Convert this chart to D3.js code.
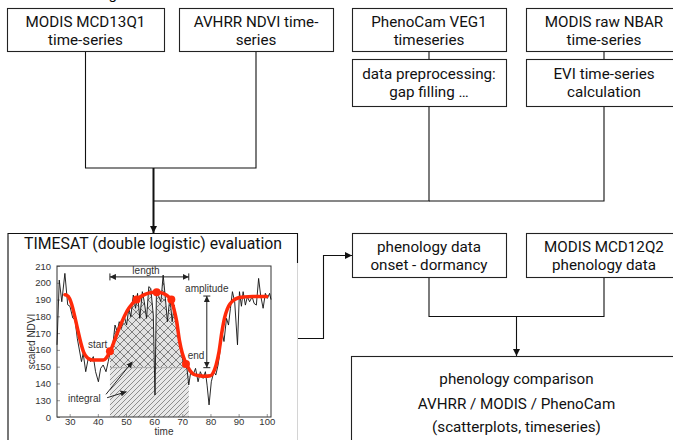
<!DOCTYPE html>
<html>
<head>
<meta charset="utf-8">
<script src="https://cdn.jsdelivr.net/npm/d3@7"></script>
<style>
  body { margin: 0; background: #fff; }
  svg { display: block; }
</style>
</head>
<body>
<svg width="673" height="440"></svg>
<script>
// ---------------- flowchart text ----------------
var sourceLabels = [
    ["MODIS MCD13Q1", "time-series"],
    ["AVHRR NDVI time-", "series"],
    ["PhenoCam VEG1", "timeseries"],
    ["MODIS raw NBAR", "time-series"]
];
var prepLabels = [
    ["data preprocessing:", "gap filling \u2026"],
    ["EVI time-series", "calculation"]
];
var resultLabels = [
    ["phenology data", "onset - dormancy"],
    ["MODIS MCD12Q2", "phenology data"]
];
var evalTitle = "TIMESAT (double logistic) evaluation";
var compareLines = ["phenology comparison", "AVHRR / MODIS / PhenoCam", "(scatterplots, timeseries)"];

// ---------------- TIMESAT example data ----------------
var ndviTime = [25.5, 26.3, 27.2, 28.3, 29.3, 30.1, 31.1, 31.9, 32.7, 34.2, 34.8, 35.7, 36.6, 37.4, 38.4, 39.2,
    40.2, 41.0, 41.9, 42.9, 43.7, 44.3, 45.2, 46.1, 46.9, 47.6, 48.4, 49.3, 50.2, 51.0, 51.7, 52.6, 53.4, 54.1,
    54.9, 55.8, 56.5, 57.3, 58.1, 58.8, 59.7, 60.3, 60.8, 61.7, 62.4, 63.2, 64.0, 64.7, 65.6, 66.4, 67.1, 67.9,
    68.8, 69.7, 70.5, 71.5, 72.3, 73.0, 73.8, 74.7, 75.6, 76.4, 77.4, 78.2, 78.8, 79.5, 80.3, 81.2, 81.9, 82.7,
    83.3, 84.1, 84.8, 85.7, 86.4, 87.1, 87.8, 88.6, 89.6, 90.3, 91.0, 91.6, 92.4, 93.1, 93.9, 94.8, 95.5, 96.3,
    97.1, 97.8, 98.7, 99.5, 100.2, 101.0, 101.5];
var ndviValue = [163, 201.6, 188.7, 205.6, 186.9, 186, 179, 178, 166.9, 153, 158, 147, 155, 153, 156, 147,
    141, 149, 151, 147, 153, 158, 160.9, 174.8, 170.9, 176.8, 172.8, 180.8, 174.8, 184.8, 179.8, 192.7, 184.8, 193.7,
    178.8, 194.7, 188.7, 178.8, 197.7, 196.7, 180.8, 133.1, 193.7, 191.7, 188.7, 204.6, 190.7, 176.8, 191.7, 176.8, 186.7, 174.8,
    164.9, 158, 151, 151, 139.1, 147, 145, 149, 141, 147, 143, 147, 139, 127.2, 141, 147, 145, 151,
    158, 170.9, 165, 178.8, 174.8, 184.8, 194.7, 188.7, 163, 194.7, 186, 194.7, 186.7, 191.7, 188.7, 191.7, 187.7, 186.7,
    202.6, 192.7, 184.8, 193.7, 190.7, 193.7, 190];

var fitTime = [28.3, 29, 30, 31, 32, 33, 34, 35, 36, 37, 38, 40, 42, 43, 44, 45, 46, 47, 48, 49, 50, 51, 52, 53, 54,
    56, 58, 60, 62, 64, 65, 66, 67, 68, 69, 70, 71, 72, 73, 74, 76, 78, 80, 81, 82, 83, 84, 85, 86, 87, 88, 89, 90,
    92, 95, 100];
var fitValue = [192.9, 192.6, 190.5, 185.5, 178.5, 171, 164, 158.5, 155.8, 154.5, 154, 153.9, 154, 155.3, 158, 161.5,
    166, 170.5, 174.5, 178.5, 182, 184.8, 187, 188.8, 190.3, 192.5, 193.8, 194.3, 194.2, 193, 191.8, 190, 184.5, 177,
    165.5, 158, 153.2, 149.8, 147, 145.5, 144.6, 144.3, 144.6, 146.5, 151, 158.5, 170, 179, 184.5, 187.5, 189.3, 190.4,
    191.1, 191.6, 191.8, 191.8];

var markerTime = [44.3, 53.8, 60.9, 66.1, 71.3];
var markerValue = [159.2, 190.1, 194.3, 190.1, 151.6];

var yTicks = [120, 130, 140, 150, 160, 170, 180, 190, 200, 210];
var yTickLabels = ["0", "130", "140", "150", "160", "170", "180", "190", "200", "210"];
var xTicks = [30, 40, 50, 60, 70, 80, 90, 100];

var seasonStart = 44.3, seasonEnd = 72.3, baseLevel = 149.4, amplitudeTop = 192.1;
var lengthLevel = 203.5, amplitudeTime = 78.7;

// ---------------- layout ----------------
var svg = d3.select('svg');
var boxFont = 'Roboto, sans-serif';
var boxSize = '15.2px';
var chartFont = '"Liberation Sans", Arial, sans-serif';
var col = [{x: 7, w: 157}, {x: 179, w: 154}, {x: 352, w: 154}, {x: 526, w: 156}];

var defs = svg.append('defs');
defs.append('marker').attr('id', 'arrow')
    .attr('viewBox', '0 0 10 10').attr('refX', 10).attr('refY', 5)
    .attr('markerUnits', 'userSpaceOnUse').attr('markerWidth', 7).attr('markerHeight', 7)
    .attr('orient', 'auto')
  .append('path').attr('d', 'M0,0L10,5L0,10z').attr('fill', '#111');
defs.append('marker').attr('id', 'tip')
    .attr('viewBox', '0 0 10 10').attr('refX', 10).attr('refY', 5)
    .attr('markerUnits', 'userSpaceOnUse').attr('markerWidth', 6).attr('markerHeight', 6)
    .attr('orient', 'auto-start-reverse')
  .append('path').attr('d', 'M0,0L10,5L0,10z').attr('fill', '#222');

var cross = defs.append('pattern').attr('id', 'cross')
    .attr('patternUnits', 'userSpaceOnUse').attr('width', 8).attr('height', 8);
cross.append('rect').attr('width', 8).attr('height', 8).attr('fill', '#e2e2e2');
cross.append('path').attr('d', 'M0,0L8,8M8,0L0,8').attr('stroke', '#555').attr('stroke-width', 0.7);

var diag = defs.append('pattern').attr('id', 'diag')
    .attr('patternUnits', 'userSpaceOnUse').attr('width', 5).attr('height', 5);
diag.append('rect').attr('width', 5).attr('height', 5).attr('fill', '#e8e8e8');
diag.append('path').attr('d', 'M0,5L5,0M-1,1L1,-1M4,6L6,4').attr('stroke', '#666').attr('stroke-width', 0.7);

function drawBox(x, y, w, h, lines, base, gap) {
    svg.append('rect')
       .attr('x', x + 0.5).attr('y', y + 0.5)
       .attr('width', w).attr('height', h)
       .attr('fill', '#fff').attr('stroke', '#222').attr('stroke-width', 1.1);
    var t = svg.append('text')
       .attr('text-anchor', 'middle')
       .style('font-family', boxFont).style('font-size', boxSize).style('fill', '#111');
    lines.forEach((s, i) => {
        t.append('tspan').attr('x', x + w / 2).attr('y', y + base + i * gap).text(s);
    });
}
function line(pts, width, marker) {
    var p = svg.append('path')
       .attr('d', d3.line()(pts))
       .attr('fill', 'none').attr('stroke', '#111').attr('stroke-width', width || 1.1);
    if (marker) p.attr('marker-end', 'url(#' + marker + ')');
    return p;
}

// heading above the first row, mostly outside the frame
svg.append('text').attr('x', 117).attr('y', -1).attr('text-anchor', 'end')
   .style('font-family', boxFont).style('font-size', boxSize).text('Processing');

// connectors
var c = col.map(d => d.x + d.w / 2);
line([[c[0], 51], [c[0], 168], [c[1], 168], [c[1], 51]]);
line([[c[2], 51], [c[2], 59]]);
line([[c[3], 51], [c[3], 59]]);
line([[c[2], 106], [c[2], 201], [153, 201]]);
line([[c[3], 106], [c[3], 201], [c[2], 201]]);
line([[153.5, 168], [153.5, 233]], 2, 'arrow');
line([[297, 338.5], [323.5, 338.5], [323.5, 255.5], [352, 255.5]], 1.1, 'arrow');
line([[c[2], 277], [c[2], 316.5], [c[3], 316.5], [c[3], 277]]);
line([[(c[2] + c[3]) / 2, 316.5], [(c[2] + c[3]) / 2, 356]], 1.1, 'arrow');

// boxes
sourceLabels.forEach((l, i) => drawBox(col[i].x, 8, col[i].w, 43, l, 19, 18));
prepLabels.forEach((l, i) => drawBox(col[i + 2].x, 59, col[i + 2].w, 47, l, 19.5, 18));
resultLabels.forEach((l, i) => drawBox(col[i + 2].x, 233, col[i + 2].w, 44, l, 19, 18));

// comparison box
svg.append('rect').attr('x', 351.5).attr('y', 356.5).attr('width', 340).attr('height', 120)
   .attr('fill', '#fff').attr('stroke', '#222').attr('stroke-width', 1.1);
var cmp = svg.append('text')
   .attr('text-anchor', 'middle')
   .style('font-family', boxFont).style('font-size', boxSize).style('fill', '#111');
compareLines.forEach((s, i) => {
    cmp.append('tspan').attr('x', (c[2] + c[3]) / 2).attr('y', [384, 409, 432][i]).text(s);
});

// TIMESAT box
svg.append('rect').attr('x', 7.5).attr('y', 233.5).attr('width', 290).attr('height', 230)
   .attr('fill', '#fff').attr('stroke', 'none');
line([[8, 445], [8, 233.5], [297.5, 233.5], [297.5, 263]]);
svg.append('line').attr('x1', 8).attr('x2', 8).attr('y1', 236).attr('y2', 440)
   .attr('stroke', '#777').attr('stroke-width', 2);
svg.append('line').attr('x1', 297.5).attr('x2', 297.5).attr('y1', 263).attr('y2', 440)
   .attr('stroke', '#d4d4d4').attr('stroke-width', 1);
svg.append('text').attr('x', 153).attr('y', 249)
   .attr('text-anchor', 'middle')
   .style('font-family', boxFont).style('font-size', '15.8px').style('fill', '#111')
   .text(evalTitle);

// ---------------- chart ----------------
var x = d3.scaleLinear().domain([25.5, 101.5]).range([57, 271]);
var y = d3.scaleLinear().domain([120, 210]).range([417, 266]);
var ndvi = ndviTime.map((t, i) => ({t: t, v: ndviValue[i]}));
var fit = fitTime.map((t, i) => ({t: t, v: fitValue[i]}));
var g = svg.append('g');

// integral areas
defs.append('clipPath').attr('id', 'aboveBase')
  .append('rect').attr('x', x(seasonStart)).attr('y', y(210))
  .attr('width', x(seasonEnd) - x(seasonStart)).attr('height', y(baseLevel) - y(210));
g.append('rect')
   .attr('x', x(seasonStart)).attr('y', y(baseLevel))
   .attr('width', x(seasonEnd) - x(seasonStart)).attr('height', y(120) - y(baseLevel))
   .attr('fill', 'url(#diag)');
g.append('path')
   .datum(ndvi.filter(d => d.t >= seasonStart && d.t <= seasonEnd))
   .attr('clip-path', 'url(#aboveBase)')
   .attr('d', d3.area().x(d => x(d.t)).y0(y(baseLevel)).y1(d => y(d.v)))
   .attr('fill', 'url(#cross)');
g.append('line')
   .attr('x1', x(seasonStart)).attr('x2', x(seasonEnd))
   .attr('y1', y(baseLevel)).attr('y2', y(baseLevel))
   .attr('stroke', '#999').attr('stroke-width', 0.8);

// axes
var yAxis = d3.axisLeft(y).tickValues(yTicks).tickFormat((d, i) => yTickLabels[i])
    .tickSizeInner(-3).tickSizeOuter(0).tickPadding(6);
var xAxis = d3.axisBottom(x).tickValues(xTicks)
    .tickSizeInner(-3).tickSizeOuter(0).tickPadding(1.5);
var ya = g.append('g').attr('transform', 'translate(57,0)').call(yAxis);
var xa = g.append('g').attr('transform', 'translate(0,417)').call(xAxis);
[ya, xa].forEach(a => {
    a.select('.domain').remove();
    a.selectAll('line').attr('stroke', '#999');
    a.selectAll('text').style('font-family', chartFont).style('font-size', '9.5px').style('fill', '#333');
});
g.append('rect').attr('x', 57).attr('y', 266).attr('width', 214).attr('height', 151)
   .attr('fill', 'none').attr('stroke', '#333').attr('stroke-width', 1);
g.append('text').attr('transform', 'translate(31,' + y(165) + ') rotate(-90)')
   .attr('text-anchor', 'middle').attr('dy', '0.35em')
   .style('font-family', chartFont).style('font-size', '10px').style('fill', '#333')
   .text('scaled NDVI');
g.append('text').attr('x', x(63.5)).attr('y', 435)
   .attr('text-anchor', 'middle')
   .style('font-family', chartFont).style('font-size', '10px').style('fill', '#333')
   .text('time');

// raw series and fit
g.append('path').datum(ndvi)
   .attr('d', d3.line().x(d => x(d.t)).y(d => y(d.v)))
   .attr('fill', 'none').attr('stroke', '#111').attr('stroke-width', 0.9);
g.append('path').datum(fit)
   .attr('d', d3.line().curve(d3.curveMonotoneX).x(d => x(d.t)).y(d => y(d.v)))
   .attr('fill', 'none').attr('stroke', '#ff2a0a').attr('stroke-width', 3.5)
   .attr('stroke-linecap', 'round');
g.selectAll('.mk').data(markerTime).enter().append('circle')
   .attr('cx', d => x(d)).attr('cy', (d, i) => y(markerValue[i])).attr('r', 4)
   .attr('fill', '#ff2a0a');

// annotations
function annLine(x1, y1, x2, y2, both) {
    var p = g.append('line').attr('x1', x1).attr('y1', y1).attr('x2', x2).attr('y2', y2)
       .attr('stroke', '#222').attr('stroke-width', 1)
       .attr('marker-end', 'url(#tip)');
    if (both) p.attr('marker-start', 'url(#tip)');
}
var ly = y(lengthLevel);
annLine(x(seasonStart), ly, x(seasonEnd), ly, true);
g.append('path').attr('d', 'M' + x(seasonStart) + ',' + (ly - 3.5) + 'v7M' + x(seasonEnd) + ',' + (ly - 3.5) + 'v7')
   .attr('stroke', '#222');
var ax = x(amplitudeTime);
annLine(ax, y(amplitudeTop), ax, y(baseLevel), true);
g.append('path').attr('d', 'M' + (ax - 3.5) + ',' + y(amplitudeTop) + 'h7M' + (ax - 3.5) + ',' + y(baseLevel) + 'h7')
   .attr('stroke', '#222');
annLine(x(42.9), y(133.5), x(52.3), y(153), false);
annLine(x(43.3), y(131.5), x(50.2), y(135.1), false);

var notes = [
    {t: 57.1, v: 207.2, s: 'length'},
    {t: 78.7, v: 196.7, s: 'amplitude'},
    {t: 39.95, v: 163.3, s: 'start'},
    {t: 74.9, v: 156.4, s: 'end'},
    {t: 35.2, v: 131.1, s: 'integral'}
];
g.selectAll('.note').data(notes).enter().append('text')
   .attr('x', d => x(d.t)).attr('y', d => y(d.v)).attr('dy', '0.35em')
   .attr('text-anchor', 'middle')
   .style('font-family', chartFont).style('font-size', '10px').style('fill', '#333')
   .text(d => d.s);
</script>
</body>
</html>
